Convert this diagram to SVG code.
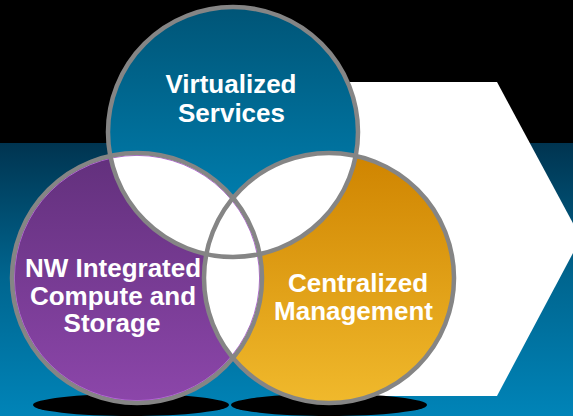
<svg xmlns="http://www.w3.org/2000/svg" width="573" height="416" viewBox="0 0 573 416">
  <defs>
    <linearGradient id="band" x1="0" y1="0" x2="0" y2="1">
      <stop offset="0" stop-color="#003450"/>
      <stop offset="0.5" stop-color="#006690"/>
      <stop offset="1" stop-color="#0084B8"/>
    </linearGradient>
    <linearGradient id="gTop" x1="0" y1="0" x2="0" y2="1">
      <stop offset="0" stop-color="#005577"/>
      <stop offset="1" stop-color="#0088BC"/>
    </linearGradient>
    <linearGradient id="gLeft" x1="0" y1="0" x2="0" y2="1">
      <stop offset="0" stop-color="#62307C"/>
      <stop offset="1" stop-color="#8C46AA"/>
    </linearGradient>
    <linearGradient id="gRight" x1="0" y1="0" x2="0" y2="1">
      <stop offset="0" stop-color="#CF8400"/>
      <stop offset="1" stop-color="#F0B92C"/>
    </linearGradient>
    <clipPath id="cTop"><circle cx="233" cy="132" r="125"/></clipPath>
    <clipPath id="cLeft"><circle cx="137" cy="278" r="125"/></clipPath>
    <clipPath id="cRight"><circle cx="329" cy="278" r="125"/></clipPath>
  </defs>
  <style>
    .ring { fill: none; stroke: #858585; stroke-width: 4.5; }
    .lbl { font-family: "Liberation Sans", Arial, sans-serif; font-weight: bold; font-size: 26px; fill: #ffffff; text-anchor: middle; }
    .shadow { fill: #000000; }
  </style>

  <g id="background">
    <rect x="0" y="0" width="573" height="416" fill="#000000"/>
    <rect x="0" y="143" width="573" height="273" fill="url(#band)"/>
    <polygon points="330,82 497,82 581,238 497,396 330,396" fill="#ffffff"/>
    <ellipse class="shadow" cx="131" cy="405" rx="98" ry="11"/>
    <ellipse class="shadow" cx="329" cy="405" rx="98" ry="11"/>
  </g>

  <g id="node-virtualized">
    <circle cx="233" cy="132" r="125" fill="url(#gTop)"/>
  </g>
  <g id="node-nw">
    <circle cx="137" cy="278" r="125" fill="url(#gLeft)"/>
  </g>
  <g id="node-centralized">
    <circle cx="329" cy="278" r="125" fill="url(#gRight)"/>
  </g>

  <g id="overlaps" fill="#ffffff">
    <circle cx="233" cy="132" r="125" clip-path="url(#cLeft)"/>
    <circle cx="233" cy="132" r="125" clip-path="url(#cRight)"/>
    <circle cx="137" cy="278" r="125" clip-path="url(#cRight)"/>
  </g>

  <g id="connectors">
    <circle cx="137" cy="278" r="122.6" fill="none" stroke="#B866DC" stroke-width="1" clip-path="url(#cLeft)"/>
    <circle class="ring" cx="233" cy="132" r="125"/>
    <circle class="ring" cx="137" cy="278" r="125"/>
    <circle class="ring" cx="329" cy="278" r="125"/>
  </g>

  <g id="labels">
    <text class="lbl" x="231" y="93">Virtualized</text>
    <text class="lbl" x="231.5" y="122">Services</text>
    <text class="lbl" x="113" y="277">NW Integrated</text>
    <text class="lbl" x="113" y="305">Compute and</text>
    <text class="lbl" x="112" y="332">Storage</text>
    <text class="lbl" x="358" y="292">Centralized</text>
    <text class="lbl" x="353.5" y="320">Management</text>
  </g>
</svg>
